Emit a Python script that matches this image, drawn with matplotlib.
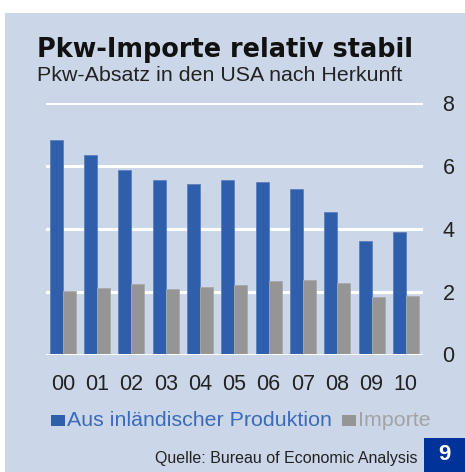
import matplotlib
matplotlib.use("Agg")
import matplotlib.pyplot as plt
from matplotlib.patches import Rectangle

plt.rcParams["font.family"] = ["Liberation Sans", "DejaVu Sans"]

# data (millions of cars sold in the USA)
years = ["00", "01", "02", "03", "04", "05", "06", "07", "08", "09", "10"]
domestic = [6.84, 6.34, 5.88, 5.55, 5.42, 5.55, 5.48, 5.26, 4.54, 3.62, 3.89]
imports = [2.02, 2.11, 2.25, 2.09, 2.15, 2.20, 2.35, 2.37, 2.28, 1.84, 1.86]
yticks = [0, 2, 4, 6, 8]

bg = "#cbd7e8"
blue = "#2f5faa"
grey = "#959595"
W, H = 465, 472

def fx(px):
    return px / W

def fy(py):
    return 1 - py / H

fig = plt.figure(figsize=(W / 100, H / 100), dpi=100, facecolor="white")
fig.patches.append(Rectangle((fx(5), 0), 1 - fx(5), fy(12.7), transform=fig.transFigure,
                             facecolor=bg, edgecolor="none", zorder=-5))

ax = fig.add_axes([fx(45.7), fy(354.5), fx(423) - fx(45.7), fy(103.3) - fy(354.5)])
ax.set_facecolor("none")
ax.set_zorder(2)
x = list(range(len(years)))
w = 0.38
ax.bar([i - w / 2 for i in x], domestic, width=w, color=blue, edgecolor="#5a80bf", lw=0.6, zorder=2)
ax.bar([i + w / 2 for i in x], imports, width=w, color=grey, edgecolor="#a9a9a9", lw=0.6, zorder=2)
for v in yticks:
    ax.axhline(v, color="white", lw=2.2, zorder=1 if v else 3)
ax.set_xlim(-0.5, len(years) - 0.5)
ax.set_ylim(0, 8)
for s in ax.spines.values():
    s.set_visible(False)
ax.yaxis.tick_right()
ax.set_yticks(yticks)
ax.set_xticks(x)
ax.set_xticklabels(years)
ax.tick_params(length=0, labelsize=15.5, colors="#222222")
ax.tick_params(axis="y", pad=14)
ax.tick_params(axis="x", pad=14)

fig.text(fx(37), fy(57), "Pkw-Importe relativ stabil", fontsize=18.4, fontweight="bold",
         family=["DejaVu Sans"], color="#111111", va="baseline")
fig.text(fx(37), fy(81), "Pkw-Absatz in den USA nach Herkunft", fontsize=15.4,
         color="#222222", va="baseline")

# legend
fig.patches.append(Rectangle((fx(51), fy(426)), fx(14), fy(415) - fy(426), transform=fig.transFigure,
                             facecolor=blue, edgecolor="none"))
fig.text(fx(67), fy(426), "Aus inländischer Produktion", fontsize=15.4, color="#3a6ab8", va="baseline")
fig.patches.append(Rectangle((fx(342), fy(426)), fx(14), fy(415) - fy(426), transform=fig.transFigure,
                             facecolor=grey, edgecolor="none"))
fig.text(fx(358), fy(426), "Importe", fontsize=15.4, color="#a3a3a3", va="baseline")

fig.text(fx(417), fy(463), "Quelle: Bureau of Economic Analysis", fontsize=11.5,
         color="#222222", ha="right", va="baseline")
fig.patches.append(Rectangle((fx(424), 0), 1 - fx(424), fy(437.7), transform=fig.transFigure,
                             facecolor="#003399", edgecolor="none"))
fig.text(fx(444.5), fy(455), "9", fontsize=16, fontweight="bold", color="white",
         ha="center", va="center")

fig.savefig("out.png", dpi=100, facecolor="white")
